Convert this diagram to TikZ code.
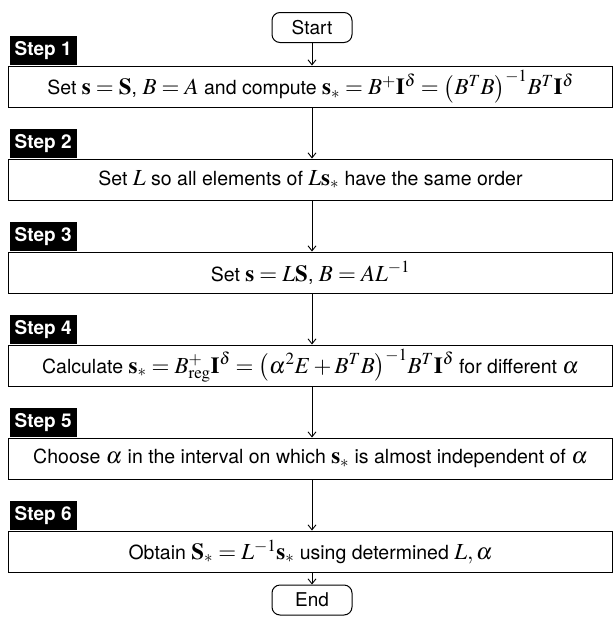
\documentclass[tikz,border=0pt]{standalone}
\usepackage{mathptmx}
\usepackage[no-math]{fontspec}
\setmainfont{TeX Gyre Heros}
\usetikzlibrary{arrows.meta}
\newcommand\mth[1]{{\fontsize{23}{26}\selectfont$#1$}}
\begin{document}
\begin{tikzpicture}[x=1pt,y=-1pt,
  stepbox/.style={draw,line width=1pt,minimum width=604pt,minimum height=41.5pt,inner sep=0pt,font=\fontsize{19.5}{23}\selectfont},
  steplbl/.style={fill=black,text=white,font=\bfseries\fontsize{19}{22}\selectfont,minimum width=67pt,minimum height=29pt,inner sep=0pt,anchor=south west},
  term/.style={draw,line width=1pt,rounded corners=8pt,minimum width=80pt,minimum height=30pt,inner sep=0pt,font=\fontsize{19}{22}\selectfont},
  arr/.style={line width=0.9pt,-{Straight Barb[length=5pt,width=8pt,line width=0.9pt]}}]
\useasboundingbox (0,0) rectangle (614,622);
\node[term] (start) at (312,27.5) {Start};
\node[stepbox] (s1) at (310.5,86.75) {Set \mth{\mathbf{s}=\mathbf{S}}, \mth{B=A} and compute \mth{\mathbf{s}_*=B^+\mathbf{I}^\delta=\bigl(B^TB\bigr)^{-1}B^T\mathbf{I}^\delta}};
\node[stepbox] (s2) at (310.5,179.75) {Set \mth{L} so all elements of \mth{L\mathbf{s}_*} have the same order};
\node[stepbox] (s3) at (310.5,272.75) {Set \mth{\mathbf{s}=L\mathbf{S}}, \mth{B=AL^{-1}}};
\node[stepbox] (s4) at (310.5,365.75) {Calculate \mth{\mathbf{s}_*=B^+_{\mathrm{reg}}\mathbf{I}^\delta=\bigl(\alpha^2E+B^TB\bigr)^{-1}B^T\mathbf{I}^\delta} for different \mth{\alpha}};
\node[stepbox] (s5) at (310.5,458.75) {Choose \mth{\alpha} in the interval on which \mth{\mathbf{s}_*} is almost independent of \mth{\alpha}};
\node[stepbox] (s6) at (310.5,551.75) {Obtain \mth{\mathbf{S}_*=L^{-1}\mathbf{s}_*} using determined \mth{L,\alpha}};
\node[term] (end) at (312,600) {End};
\foreach \i in {1,...,6} {
  \node[steplbl] (l\i) at ([xshift=1.5pt,yshift=0.5pt]s\i.north west) {Step \i};
}
\draw[arr] (start.south) -- (s1.north -| start.south);
\draw[arr] (s1.south -| start.south) -- (s2.north -| start.south);
\draw[arr] (s2.south -| start.south) -- (s3.north -| start.south);
\draw[arr] (s3.south -| start.south) -- (s4.north -| start.south);
\draw[arr] (s4.south -| start.south) -- (s5.north -| start.south);
\draw[arr] (s5.south -| start.south) -- (s6.north -| start.south);
\draw[arr] (s6.south -| start.south) -- (end.north);
\end{tikzpicture}
\end{document}
